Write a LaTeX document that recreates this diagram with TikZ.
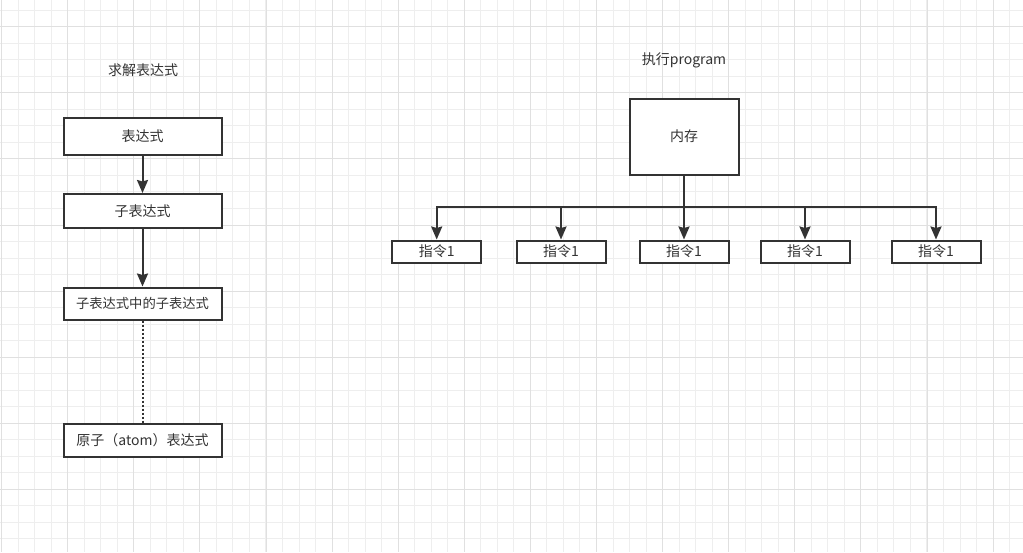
\documentclass[tikz,border=0pt]{standalone}
\usepackage{fontspec}
\setmainfont{Noto Sans CJK SC}
\usetikzlibrary{arrows.meta}
\definecolor{ln}{HTML}{333333}
\definecolor{gminorc}{HTML}{EEEEEE}
\definecolor{gmajorc}{HTML}{E0E0E0}
\tikzset{
  gminor/.style={draw=gminorc, line width=1pt},
  gmajor/.style={draw=gmajorc, line width=1pt},
  box/.style={draw=ln, fill=white, line width=2pt, inner sep=0pt, text=ln, font=\fontsize{14}{16}\selectfont},
  lbox/.style={box, minimum width=158pt},
  ibox/.style={box, minimum width=89pt, minimum height=22pt},
  title/.style={inner sep=0pt, text=ln, font=\fontsize{14}{16}\selectfont},
  arr/.style={draw=ln, line width=2pt, -{Stealth[width=11pt,length=13pt,inset=1.5pt]}},
  plain/.style={draw=ln, line width=2pt},
  dotline/.style={draw=ln, line width=2pt, dash pattern=on 2pt off 2pt}
}
\begin{document}
\begin{tikzpicture}[x=1pt,y=-1pt]
\useasboundingbox (0,0) rectangle (1023,552);
\fill[white] (0,0) rectangle (1023,552);
\foreach \i in {0,...,61} \draw[gminor] ({floor(1.6+16.525*\i)+0.5},0) -- ++(0,552);
\foreach \i in {0,...,33} \draw[gminor] (0,{floor(10.2+16.525*\i)+0.5}) -- ++(1023,0);
\foreach \i in {0,...,15} \draw[gmajor] ({floor(1.6+66.1*\i)+0.5},0) -- ++(0,552);
\foreach \i in {0,...,7} \draw[gmajor] (0,{floor(26.7+66.1*\i)+0.5}) -- ++(1023,0);

% left column
\node[title] (t1) at (143,70) {求解表达式};
\node[lbox, minimum height=37pt] (e1) at (142.5,136) {表达式};
\node[lbox, minimum height=34pt] (e2) at (142.5,211) {子表达式};
\node[lbox, minimum height=32pt, font=\fontsize{13.3}{16}\selectfont] (e3) at (142.5,303.5) {子表达式中的子表达式};
\node[lbox, minimum height=33pt] (e4) at (142.5,440) {原子（atom）表达式};
\draw[arr] (e1) -- (e2);
\draw[arr] (e2) -- (e3);
\draw[dotline] (e3) -- (e4);

% right part
\node[title] (t2) at (684,60) {执行program};
\node[box, minimum width=109pt, minimum height=76pt] (mem) at (684,136.5) {内存};
\node[ibox] (i1) at (436.7,251.5) {指令1};
\node[ibox] (i2) at (561,251.5) {指令1};
\node[ibox] (i3) at (684,251.5) {指令1};
\node[ibox] (i4) at (805,251.5) {指令1};
\node[ibox] (i5) at (936,251.5) {指令1};
\coordinate (bus) at (684,207.3);
\draw[arr] (mem.south) -- (i3.north);
\draw[arr] (mem.south) -- (bus) -| (i1.north);
\draw[arr] (mem.south) -- (bus) -| (i2.north);
\draw[arr] (mem.south) -- (bus) -| (i4.north);
\draw[arr] (mem.south) -- (bus) -| (i5.north);
\end{tikzpicture}
\end{document}
